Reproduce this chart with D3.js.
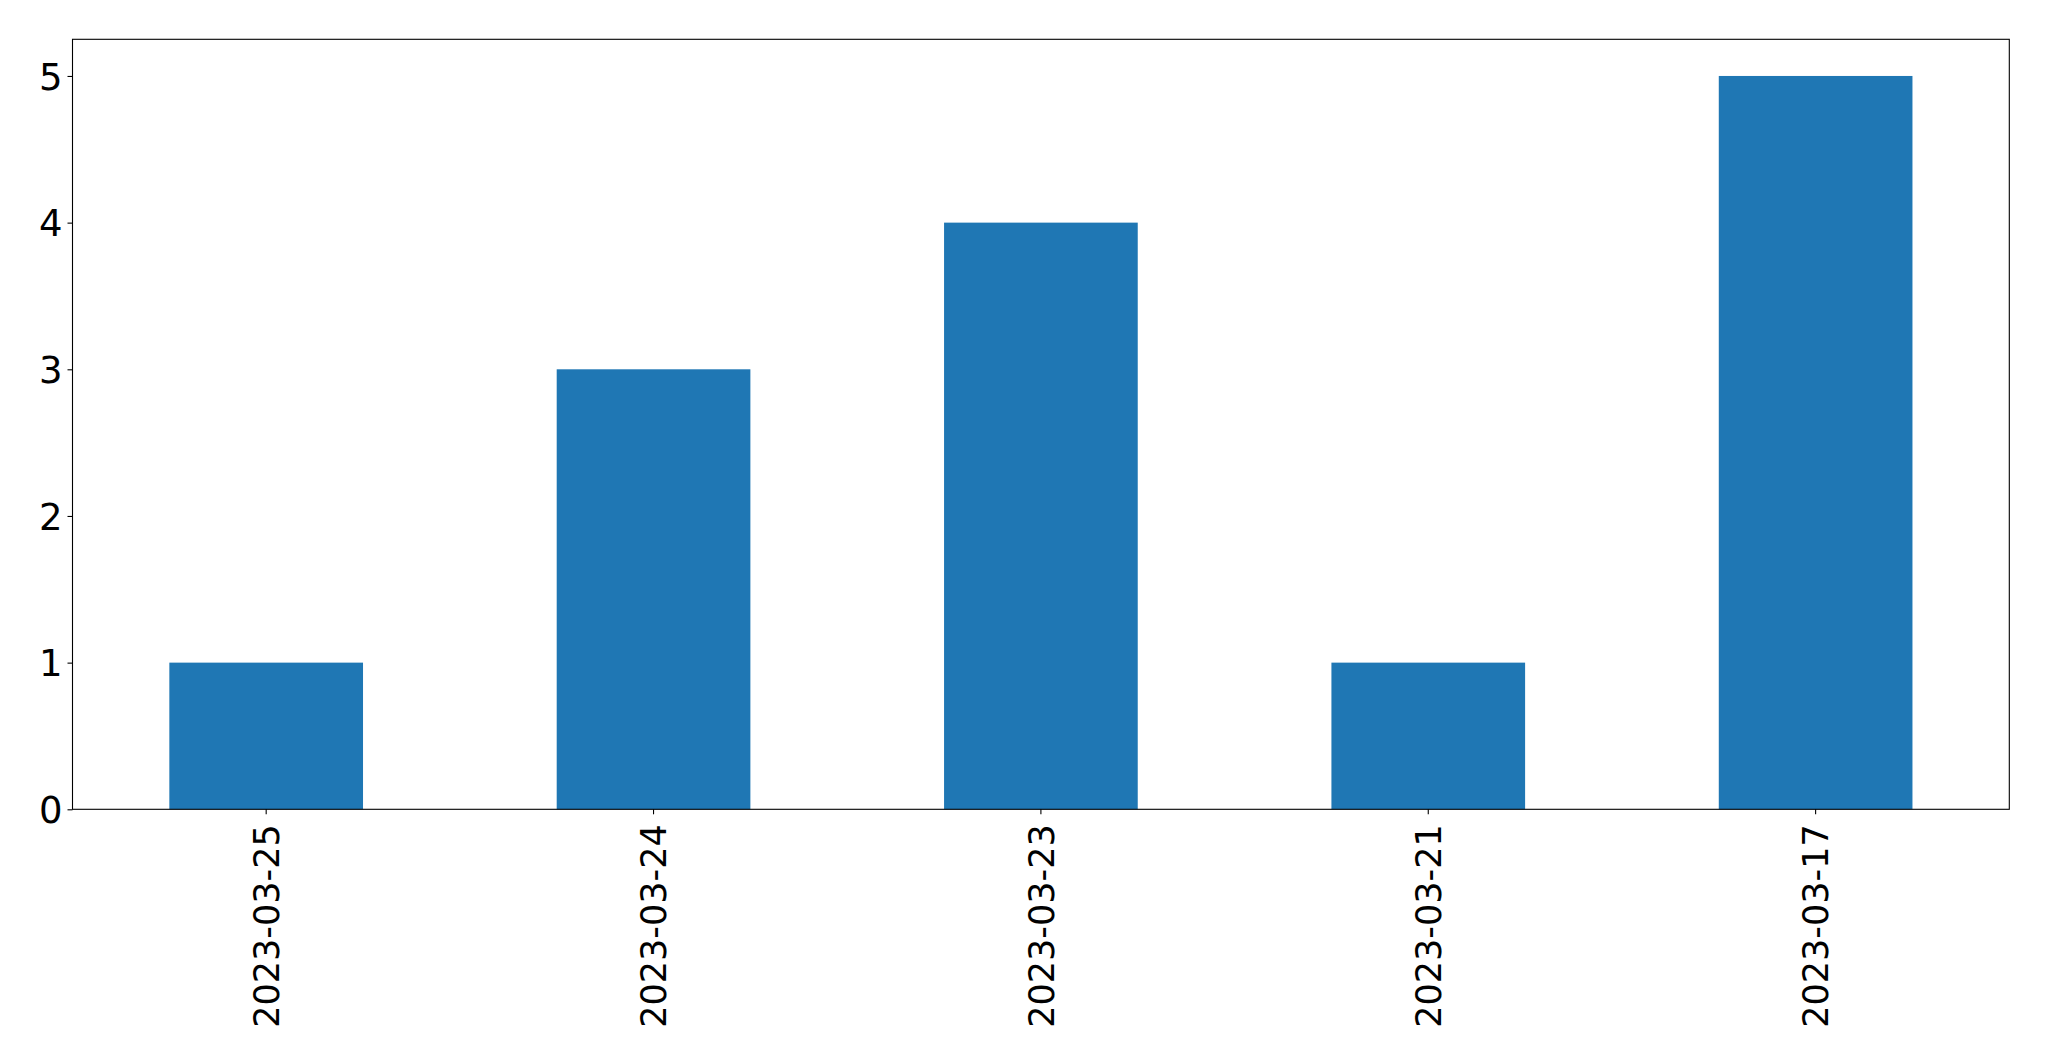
<!DOCTYPE html>
<html>
<head>
<meta charset="utf-8">
<script src="https://cdn.jsdelivr.net/npm/d3@7"></script>
<style>
  html, body { margin: 0; padding: 0; background: #fff; }
  svg { display: block; }
  text { font-family: "DejaVu Sans", sans-serif; fill: #000; }
</style>
</head>
<body>
<svg id="chart" width="2049" height="1061"></svg>
<script>
const categories = ["2023-03-25", "2023-03-24", "2023-03-23", "2023-03-21", "2023-03-17"];
const values = [1, 3, 4, 1, 5];
const yTicks = [0, 1, 2, 3, 4, 5];

const W = 2049, H = 1061;
const margin = { left: 72.5, right: W - 2009.3, top: 39.3, bottom: H - 809.3 };
const svg = d3.select("#chart");
const innerW = W - margin.left - margin.right;
const innerH = H - margin.top - margin.bottom;
const g = svg.append("g").attr("transform", `translate(${margin.left},${margin.top})`);

const x = d3.scaleBand().domain(categories).range([0, innerW]).paddingInner(0.5).paddingOuter(0.25);
const yMax = d3.max(values) * 1.05;
const y = d3.scaleLinear().domain([0, yMax]).range([innerH, 0]);

g.selectAll("rect.bar")
  .data(categories.map((c, i) => ({ c, v: values[i] })))
  .enter().append("rect")
  .attr("class", "bar")
  .attr("x", d => x(d.c))
  .attr("width", x.bandwidth())
  .attr("y", d => y(d.v))
  .attr("height", d => y(0) - y(d.v))
  .attr("fill", "#1f77b4");

// Frame
g.append("rect")
  .attr("x", 0).attr("y", 0).attr("width", innerW).attr("height", innerH)
  .attr("fill", "none").attr("stroke", "#000").attr("stroke-width", 1.1);

// Y axis
const yAxis = g.append("g").call(
  d3.axisLeft(y).tickValues(yTicks).tickFormat(d3.format("d")).tickSize(5).tickPadding(5)
);
yAxis.select(".domain").remove();
yAxis.selectAll(".tick line").attr("stroke", "#000").attr("stroke-width", 1.1);
yAxis.selectAll(".tick text").attr("font-size", "37px").attr("font-family", "DejaVu Sans").attr("fill", "#000").attr("dy", "0.36em");

// X axis
const xAxis = g.append("g").attr("transform", `translate(0,${innerH})`).call(
  d3.axisBottom(x).tickSize(5).tickPadding(0)
);
xAxis.select(".domain").remove();
xAxis.selectAll(".tick line").attr("stroke", "#000").attr("stroke-width", 1.1);
xAxis.selectAll(".tick text")
  .attr("font-size", "35px").attr("font-family", "DejaVu Sans").attr("fill", "#000")
  .attr("text-anchor", "end")
  .attr("transform", "translate(0,15) rotate(-90)")
  .attr("x", 0).attr("y", 0)
  .attr("dy", "0.36em");
</script>
</body>
</html>
